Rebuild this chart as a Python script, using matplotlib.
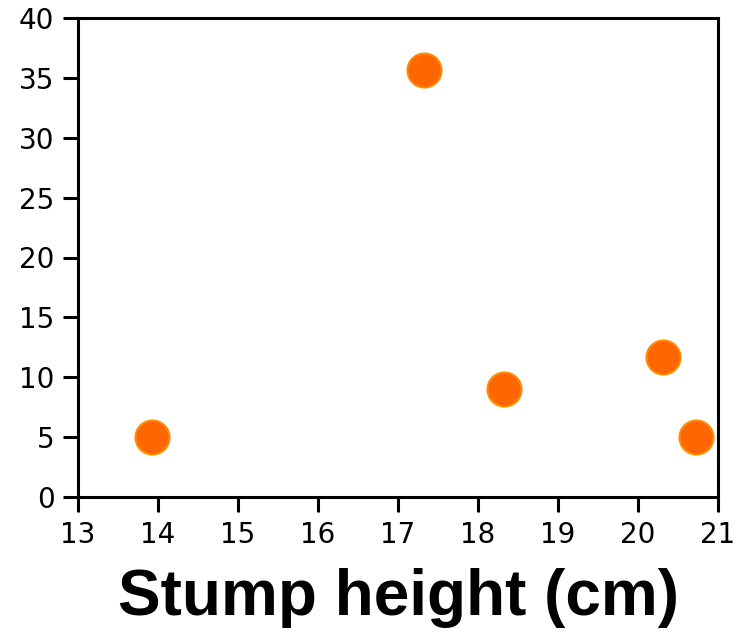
import matplotlib
matplotlib.use('Agg')
import matplotlib.pyplot as plt

# data
stump_height = [13.92, 17.32, 18.32, 20.31, 20.72]
values = [5.0, 35.65, 9.0, 11.65, 5.0]
x_ticks = [13, 14, 15, 16, 17, 18, 19, 20, 21]
y_ticks = [0, 5, 10, 15, 20, 25, 30, 35, 40]

fig = plt.figure(figsize=(7.47, 6.34), dpi=100)
ax = fig.add_axes([78 / 747, 1 - 497 / 634, 640 / 747, 479 / 634])

ax.scatter(stump_height, values, s=600, color='#ff6600', edgecolor='#ff8a00',
           linewidth=1.5, zorder=3, clip_on=False)

ax.set_xlim(13, 21)
ax.set_ylim(0, 40)
ax.set_xticks(x_ticks)
ax.set_yticks(y_ticks)

for s in ax.spines.values():
    s.set_linewidth(2.2)
ax.tick_params(direction='out', length=11, width=2.2, labelsize=20, pad=6)

ax.set_xlabel('Stump height (cm)', fontsize=46, fontweight='bold',
              family='Liberation Sans', labelpad=14)

plt.savefig('out.png', dpi=100)
